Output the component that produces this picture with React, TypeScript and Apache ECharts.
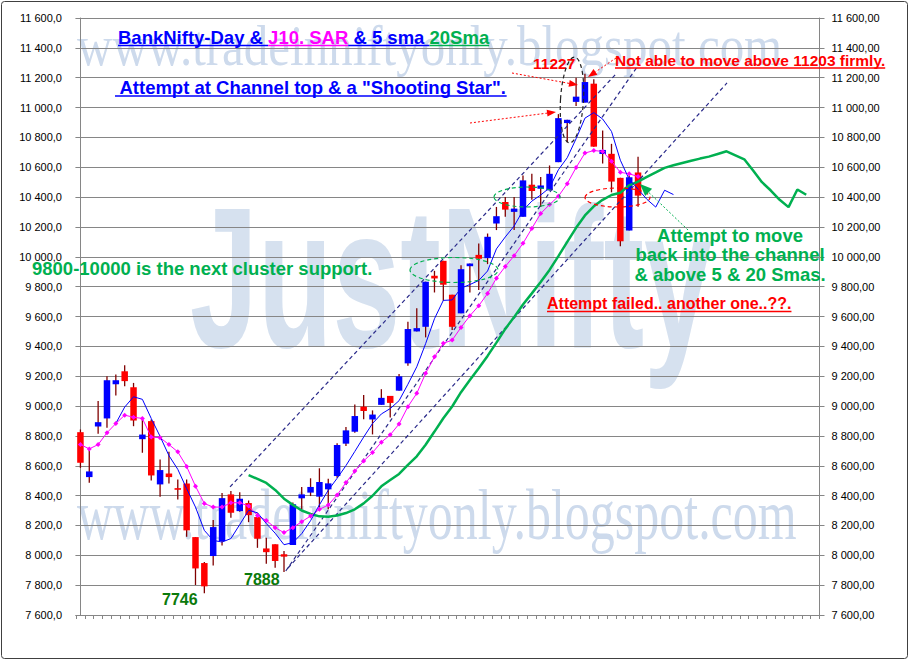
import React, { useEffect, useRef } from "react";
import * as echarts from "echarts";

// ---- data ----
const opens = [8825, 8524, 8863, 8917, 9146, 9233, 9126, 8778, 8899, 8475, 8548, 8450, 8481, 8122, 7948, 7995, 8095, 8408, 8296, 8350, 8256, 8046, 8074, 8007, 8069, 8382, 8420, 8393, 8442, 8531, 8748, 8828, 8996, 8910, 9008, 9068, 9103, 9286, 9500, 9531, 9873, 9973, 9746, 9621, 9937, 10013, 9991, 10223, 10367, 10301, 10268, 10483, 10456, 10445, 10634, 10896, 11038, 11033, 11160, 10689, 10690, 10529, 10176, 10565];
const closes = [8620, 8562, 8892, 9173, 9173, 9167, 8903, 8809, 8535, 8571, 8524, 8439, 8167, 7912, 7792, 8189, 8383, 8285, 8379, 8269, 8111, 8021, 7962, 7991, 8342, 8408, 8458, 8491, 8482, 8739, 8837, 8933, 8967, 8943, 9055, 9021, 9199, 9516, 9522, 9833, 9855, 9813, 9531, 9917, 9955, 9987, 10134, 10272, 10316, 10323, 10512, 10441, 10478, 10556, 10929, 10918, 11073, 11171, 10738, 10716, 10504, 10104, 10533, 10410];
const lows = [8586, 8486, 8814, 8854, 9071, 9133, 8865, 8687, 8501, 8392, 8481, 8374, 8124, 7801, 7746, 7932, 8066, 8251, 8292, 8222, 8050, 7944, 7917, 7888, 8069, 8308, 8397, 8319, 8308, 8520, 8732, 8821, 8911, 8810, 9008, 8923, 9103, 9270, 9500, 9460, 9761, 9705, 9509, 9621, 9761, 9777, 9951, 10179, 10268, 10179, 10268, 10383, 10334, 10445, 10634, 10767, 11011, 11033, 10738, 10625, 10432, 10070, 10176, 10335];
const highs = [8843, 8710, 9033, 9200, 9211, 9274, 9155, 8910, 8910, 8642, 8693, 8508, 8508, 8122, 7955, 8236, 8417, 8430, 8423, 8367, 8285, 8117, 8074, 8029, 8353, 8458, 8516, 8583, 8513, 8750, 8859, 9011, 9074, 8971, 9113, 9068, 9214, 9565, 9656, 9833, 9906, 9973, 9746, 9944, 9955, 10089, 10156, 10334, 10401, 10401, 10545, 10556, 10534, 10612, 10956, 10918, 11200, 11227, 11189, 10846, 10757, 10529, 10545, 10670];

const sma5 = [null, null, null, null, 8884, 8993, 9062, 9045, 8917, 8797, 8668, 8576, 8447, 8323, 8167, 8100, 8089, 8112, 8206, 8301, 8285, 8213, 8148, 8071, 8085, 8145, 8232, 8338, 8436, 8516, 8601, 8696, 8792, 8883, 8947, 8983, 9036, 9146, 9263, 9418, 9585, 9708, 9711, 9790, 9814, 9841, 9905, 10053, 10133, 10206, 10311, 10373, 10414, 10462, 10583, 10664, 10791, 10929, 10966, 10923, 10840, 10647, 10519, 10453, 10385, 10333, 10446, 10417];

const sar = [8742, 8713, 8742, 8821, 8883, 8939, 8925, 8917, 8792, 8788, 8742, 8693, 8595, 8463, 8347, 8323, 8323, 8352, 8352, 8330, 8267, 8233, 8185, 8152, 8185, 8225, 8263, 8308, 8337, 8404, 8487, 8565, 8632, 8688, 8758, 8807, 8880, 8996, 9085, 9219, 9330, 9420, 9442, 9527, 9605, 9672, 9754, 9857, 9935, 10007, 10090, 10190, 10290, 10350, 10405, 10490, 10598, 10695, 10712, 10706, 10640, 10566, 10556, 10538];

const sma20 = [null, null, null, null, null, null, null, null, null, null, null, null, null, null, null, null, null, null, null, 8537, 8512, 8485, 8438, 8379, 8338, 8300, 8277, 8261, 8259, 8267, 8283, 8308, 8348, 8399, 8462, 8504, 8545, 8606, 8663, 8741, 8829, 8918, 8997, 9093, 9174, 9253, 9336, 9425, 9517, 9596, 9680, 9755, 9831, 9912, 10005, 10100, 10194, 10277, 10338, 10382, 10414, 10429, 10479, 10504, 10535, 10565, 10596, 10613, 10629, 10644, 10658, 10671, 10689, 10707, 10680, 10653, 10578, 10500, 10444, 10382, 10333, 10451, 10416];

// channel lines: [startIndex, startValue, endIndex, endValue]
const channelUpper = [16.9, 8458, 60.6, 11231];
const channelMid = [23.2, 7895, 62.9, 11272];
const channelLower = [23.45, 7915, 73.05, 11165];

const categoryCount = 84;
const categories = Array.from({ length: categoryCount }, (_, i) => String(i + 1));
const yMin = 7600;
const yMax = 11600;
const yStep = 200;

const FONT = '"Liberation Sans", Arial, sans-serif';

function fmt(v: number, dec: number) {
  const th = Math.floor(v / 1000);
  const rest = String(Math.round(v % 1000)).padStart(3, "0");
  return th + " " + rest + "," + "0".repeat(dec);
}

let ctx: CanvasRenderingContext2D | null = null;
function measure(text: string, size: number, weight = "bold") {
  if (!ctx) ctx = document.createElement("canvas").getContext("2d");
  ctx!.font = `${weight} ${size}px "Liberation Sans"`;
  return ctx!.measureText(text).width;
}

function txt(text: string, x: number, y: number, size: number, color: string, align = "left", weight = "bold") {
  return {
    type: "text",
    x,
    y,
    z: 100,
    style: { text, fill: color, fontSize: size, fontWeight: weight, fontFamily: FONT, align, verticalAlign: "middle" },
  };
}
function uline(x1: number, x2: number, y: number, color: string, w = 1.5) {
  return { type: "line", z: 100, shape: { x1, y1: y, x2, y2: y }, style: { stroke: color, lineWidth: w } };
}
function arrow(x1: number, y1: number, x2: number, y2: number, color: string, dash: number[] | null, w: number, hl: number, hw: number) {
  const dx = x2 - x1, dy = y2 - y1;
  const len = Math.sqrt(dx * dx + dy * dy);
  const ux = dx / len, uy = dy / len;
  const bx = x2 - ux * hl, by = y2 - uy * hl;
  const px = -uy * hw / 2, py = ux * hw / 2;
  return [
    { type: "line", z: 100, shape: { x1, y1, x2: bx, y2: by }, style: { stroke: color, lineWidth: w, lineDash: dash || undefined } },
    { type: "polygon", z: 100, shape: { points: [[x2, y2], [bx + px, by + py], [bx - px, by - py]] }, style: { fill: color } },
  ];
}
function ellipse(cx: number, cy: number, rx: number, ry: number, color: string, rotation = 0) {
  return {
    type: "ellipse", z: 100, x: cx, y: cy, rotation,
    shape: { cx: 0, cy: 0, rx, ry },
    style: { fill: "none", stroke: color, lineWidth: 1.2, lineDash: [4, 3] },
  };
}

export default function App() {
  const ref = useRef<HTMLDivElement>(null);
  useEffect(() => {
    const chart = echarts.init(ref.current!, null, { renderer: "svg" });

    const BLUE = "#0000ff", MAG = "#ff00ff", GREEN = "#00b050", RED = "#ff0000", DKG = "#0b7a0b";
    const candleData = opens.map((o, i) => [i, o, closes[i], lows[i], highs[i]]);

    const tSize = 18.5;
    const segs: [string, string][] = [["BankNifty-Day & ", BLUE], ["J10. SAR", MAG], [" & 5 sma ", BLUE], ["20Sma", GREEN]];
    const graphics: any[] = [];

    // watermarks (behind)
    graphics.push({
      type: "text", x: 77, y: 46, z: -10, scaleY: 1.18,
      style: { text: "www.tradeinniftyonly.blogspot.com", fill: "#cddaec", fontSize: 49, fontFamily: '"Liberation Serif", serif', align: "left", verticalAlign: "middle" },
    });
    graphics.push({
      type: "text", x: 77, y: 515, z: -10, scaleY: 1.45,
      style: { text: "www.tradeinniftyonly.blogspot.com", fill: "#cddaec", fontSize: 50, fontFamily: '"Liberation Serif", serif', align: "left", verticalAlign: "middle" },
    });
    graphics.push({
      type: "text", x: 451, y: 278, z: -10, scaleX: 0.61,
      style: { text: "JustNifty", fill: "#d6e1ef", fontSize: 200, fontWeight: "bold", fontFamily: FONT, align: "center", verticalAlign: "middle" },
    });

    let tx = 118;
    segs.forEach(([s, c]) => {
      const w = measure(s, tSize);
      graphics.push(txt(s, tx, 37, tSize, c));
      graphics.push(uline(tx, tx + w, 45.5, c));
      tx += w;
    });
    const l2 = ' Attempt at Channel top & a "Shooting Star".';
    const l2w = measure(l2, tSize);
    graphics.push(txt(l2, 115, 87, tSize, BLUE));
    graphics.push(uline(115, 115 + l2w, 96, BLUE));

    graphics.push(txt("9800-10000 is the next cluster support.", 32, 268, tSize, GREEN));
    graphics.push(txt("Attempt to move", 730, 235, tSize, GREEN, "center"));
    graphics.push(txt("back into the channel", 730, 254.5, tSize, GREEN, "center"));
    graphics.push(txt("& above 5 & 20 Smas.", 730, 274, tSize, GREEN, "center"));

    const af = "Attempt failed.. another one..??.";
    graphics.push(txt(af, 547, 303, 16, RED));
    graphics.push(uline(547, 547 + measure(af, 16), 311.5, RED));

    const na = "Not able to move above 11203 firmly.";
    graphics.push(txt(na, 615, 60, 15.5, RED));
    graphics.push(uline(615, 615 + measure(na, 15.5), 68, RED));
    graphics.push(txt("11227", 533, 63, 15.5, RED));
    graphics.push(txt("7746", 162, 599, 16, DKG));
    graphics.push(txt("7888", 244, 579, 16, DKG));

    // ellipses
    graphics.push(ellipse(454, 270, 44, 12.5, GREEN));
    graphics.push(ellipse(527, 197, 33, 10, GREEN));
    graphics.push(ellipse(572, 100, 11.5, 43, "#222222", -0.06));
    graphics.push(ellipse(617.5, 197.5, 32.5, 9.5, RED));

    // arrows
    graphics.push(...arrow(470, 123, 556, 112, RED, [2, 2], 1, 9, 7));
    graphics.push(...arrow(512, 73, 578, 85, RED, [2, 2], 1, 9, 7));
    graphics.push(...arrow(616, 58, 588, 77, RED, [2, 2], 1, 9, 7));
    graphics.push(...arrow(688, 230, 640, 184, GREEN, [2, 2], 1, 12, 10));

    graphics.push({ type: "rect", z: 100, shape: { x: 1.5, y: 1.5, width: 906, height: 657, r: 3 }, style: { fill: "none", stroke: "#404040", lineWidth: 1 } });

    const trend = (d: number[]) => ({
      type: "line",
      xAxisIndex: 1,
      yAxisIndex: 0,
      data: [[d[0], d[1]], [d[2], d[3]]],
      symbol: "none",
      lineStyle: { color: "#2a2a8a", width: 1.2, type: [4, 3] },
      silent: true,
    });

    const option: any = {
      animation: false,
      backgroundColor: "#ffffff",
      grid: { left: 76, right: 90.5, top: 18, bottom: 46 },
      xAxis: [
        {
          type: "category",
          data: categories,
          boundaryGap: true,
          axisLine: { show: true, lineStyle: { color: "#868686", width: 1 } },
          axisTick: { show: true, interval: 0, length: 4, lineStyle: { color: "#868686" } },
          axisLabel: { show: false },
          splitLine: { show: false },
        },
        { type: "value", min: -0.5, max: categoryCount - 0.5, show: false },
      ],
      yAxis: [
        {
          type: "value",
          position: "left",
          min: yMin,
          max: yMax,
          interval: yStep,
          axisLine: { show: true, lineStyle: { color: "#868686" } },
          axisTick: { show: true, length: 5, lineStyle: { color: "#868686" } },
          axisLabel: { formatter: (v: number) => fmt(v, 1), fontSize: 11, color: "#000", fontFamily: FONT, margin: 14 },
          splitLine: { show: true, lineStyle: { color: "#868686", width: 1 } },
        },
        {
          type: "value",
          position: "right",
          min: yMin,
          max: yMax,
          interval: yStep,
          axisLine: { show: true, lineStyle: { color: "#868686" } },
          axisTick: { show: true, length: 5, lineStyle: { color: "#868686" } },
          axisLabel: { formatter: (v: number) => fmt(v, 2), fontSize: 11, color: "#000", fontFamily: FONT, margin: 12 },
          splitLine: { show: false },
        },
      ],
      graphic: graphics,
      series: [
        {
          type: "custom",
          xAxisIndex: 0,
          yAxisIndex: 0,
          data: candleData,
          encode: { x: 0, y: [1, 2, 3, 4] },
          renderItem: (params: any, api: any) => {
            const i = api.value(0);
            const o = api.value(1), c = api.value(2), l = api.value(3), h = api.value(4);
            const pO = api.coord([i, o]);
            const pC = api.coord([i, c]);
            const pL = api.coord([i, l]);
            const pH = api.coord([i, h]);
            const bw = 6.5;
            const top = Math.min(pO[1], pC[1]);
            const ht = Math.max(Math.abs(pO[1] - pC[1]), 1.5);
            const up = c >= o;
            return {
              type: "group",
              children: [
                { type: "line", shape: { x1: pO[0], y1: pH[1], x2: pO[0], y2: pL[1] }, style: { stroke: "#800000", lineWidth: 1.3 } },
                { type: "rect", shape: { x: pO[0] - bw / 2, y: top, width: bw, height: ht }, style: { fill: up ? "#0000ff" : "#ff0000" } },
              ],
            };
          },
        },
        trend(channelUpper),
        trend(channelMid),
        trend(channelLower),
        {
          type: "line",
          data: sma20,
          symbol: "none",
          lineStyle: { color: GREEN, width: 2.5 },
          connectNulls: false,
        },
        {
          type: "line",
          data: sar,
          symbol: "diamond",
          symbolSize: 5,
          itemStyle: { color: MAG },
          lineStyle: { color: MAG, width: 1 },
        },
        {
          type: "line",
          data: sma5,
          symbol: "none",
          lineStyle: { color: BLUE, width: 1 },
        },
      ],
    };
    chart.setOption(option);
    return () => chart.dispose();
  }, []);
  return <div ref={ref} style={{ position: "absolute", left: 0, top: 0, width: 910, height: 661, background: "#fff" }} />;
}
